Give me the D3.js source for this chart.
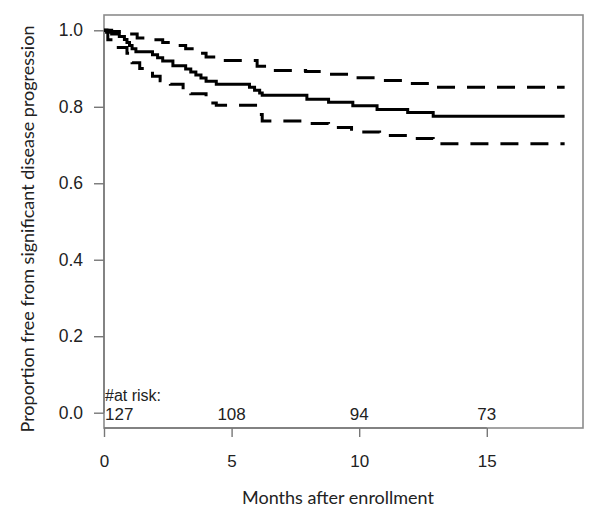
<!DOCTYPE html>
<html>
<head>
<meta charset="utf-8">
<script src="https://cdn.jsdelivr.net/npm/d3@7"></script>
<style>
  html, body { margin: 0; padding: 0; background: #fff; }
  svg { display: block; }
</style>
</head>
<body>
<svg id="chart" width="600" height="519"></svg>
<script>
// ---- Data ----
const survTimes = [0, 0.1, 0.3, 0.6, 0.8, 0.9, 1.0, 1.1, 1.25, 1.9, 2.1, 2.3, 2.7, 3.2, 3.4, 3.6, 3.8, 4.0, 4.4, 5.7, 5.9, 6.1, 6.2, 7.95, 8.8, 9.75, 10.7, 11.9, 12.9, 18.05];
const survValues = [1.0, 0.995, 0.99, 0.984, 0.976, 0.968, 0.96, 0.952, 0.944, 0.936, 0.928, 0.92, 0.907, 0.899, 0.891, 0.883, 0.875, 0.867, 0.859, 0.851, 0.843, 0.836, 0.83, 0.82, 0.812, 0.803, 0.793, 0.785, 0.775, 0.775];

const upperTimes = [0, 0.3, 1.0, 1.3, 1.8, 2.3, 2.7, 3.2, 3.6, 4.0, 4.3, 6.0, 6.4, 7.9, 8.8, 9.8, 10.8, 11.9, 12.9, 18.05];
const upperValues = [1.0, 0.997, 0.99, 0.98, 0.975, 0.968, 0.96, 0.952, 0.94, 0.93, 0.921, 0.906, 0.895, 0.892, 0.885, 0.876, 0.869, 0.861, 0.851, 0.851];

const lowerTimes = [0, 0.15, 0.4, 0.9, 1.1, 1.4, 1.9, 2.2, 2.6, 3.1, 3.4, 4.0, 4.4, 6.0, 6.2, 8.0, 8.8, 9.7, 10.8, 11.9, 12.9, 18.05];
const lowerValues = [1.0, 0.975, 0.955, 0.94, 0.915, 0.9, 0.88, 0.868, 0.859, 0.845, 0.834, 0.81, 0.804, 0.78, 0.763, 0.756, 0.746, 0.734, 0.725, 0.717, 0.703, 0.703];

const xTicks = [0, 5, 10, 15];
const yTicks = [0.0, 0.2, 0.4, 0.6, 0.8, 1.0];
const atRiskTimes = [0, 5, 10, 15];
const atRiskCounts = [127, 108, 94, 73];

const xTitle = "Months after enrollment";
const yTitle = "Proportion free from significant disease progression";
const atRiskLabel = "#at risk:";

// ---- Layout ----
const svg = d3.select("#chart");
const box = { left: 104, right: 583, top: 15, bottom: 428 };

const x = d3.scaleLinear().domain([0, 18.77]).range([box.left, box.right]);
const y = d3.scaleLinear().domain([-0.04, 1.04]).range([box.bottom, box.top]);

const tickFont = "'Liberation Sans', Arial, Helvetica, sans-serif";
const titleFont = "Lato, 'Open Sans', sans-serif";

// plot box
svg.append("rect")
  .attr("x", box.left).attr("y", box.top)
  .attr("width", box.right - box.left).attr("height", box.bottom - box.top)
  .attr("fill", "none").attr("stroke", "#8c8c8c").attr("stroke-width", 1.6);

// y axis
const yAxis = d3.axisLeft(y).tickValues(yTicks).tickFormat(d3.format(".1f")).tickSize(10).tickPadding(11);
const gy = svg.append("g").attr("transform", `translate(${box.left},0)`).call(yAxis);
gy.select(".domain").attr("d", `M-0,${y(0)}V${y(1)}`).attr("stroke", "#777").attr("stroke-width", 1.4);
gy.selectAll(".tick line").attr("stroke", "#777").attr("stroke-width", 1.4);
gy.selectAll(".tick text").attr("font-family", tickFont).attr("font-size", 17.5).attr("fill", "#222");

// x axis
const xAxis = d3.axisBottom(x).tickValues(xTicks).tickFormat(d3.format("d")).tickSize(9).tickPadding(18);
const gx = svg.append("g").attr("transform", `translate(0,${box.bottom})`).call(xAxis);
gx.select(".domain").attr("d", `M${x(0)},0H${x(15)}`).attr("stroke", "#777").attr("stroke-width", 1.4);
gx.selectAll(".tick line").attr("stroke", "#777").attr("stroke-width", 1.4);
gx.selectAll(".tick text").attr("font-family", tickFont).attr("font-size", 17).attr("fill", "#222");

// curves
const stepLine = d3.line().curve(d3.curveStepAfter).x(d => x(d[0])).y(d => y(d[1]));
const toPts = (ts, vs) => ts.map((t, i) => [t, vs[i]]);

svg.append("path").datum(toPts(upperTimes, upperValues))
  .attr("d", stepLine).attr("fill", "none").attr("stroke", "#000")
  .attr("stroke-width", 3).attr("stroke-dasharray", "18,12");
svg.append("path").datum(toPts(lowerTimes, lowerValues))
  .attr("d", stepLine).attr("fill", "none").attr("stroke", "#000")
  .attr("stroke-width", 3).attr("stroke-dasharray", "18,12");
svg.append("path").datum(toPts(survTimes, survValues))
  .attr("d", stepLine).attr("fill", "none").attr("stroke", "#000")
  .attr("stroke-width", 3);

// at-risk table
svg.append("text").attr("x", x(0) + 1).attr("y", 401)
  .attr("font-family", tickFont).attr("font-size", 16).attr("fill", "#222")
  .text(atRiskLabel);
svg.selectAll(".atrisk").data(atRiskTimes).enter().append("text")
  .attr("class", "atrisk")
  .attr("x", (d, i) => i === 0 ? x(d) + 1 : x(d))
  .attr("y", 420)
  .attr("text-anchor", (d, i) => i === 0 ? "start" : "middle")
  .attr("font-family", tickFont).attr("font-size", 17).attr("fill", "#222")
  .text((d, i) => atRiskCounts[i]);

// titles
svg.append("text").attr("x", 338).attr("y", 504).attr("text-anchor", "middle")
  .attr("font-family", titleFont).attr("font-size", 18).attr("fill", "#222")
  .text(xTitle);
svg.append("text").attr("transform", "translate(34,229) rotate(-90)").attr("text-anchor", "middle")
  .attr("font-family", titleFont).attr("font-size", 18).attr("fill", "#222")
  .text(yTitle);
</script>
</body>
</html>
